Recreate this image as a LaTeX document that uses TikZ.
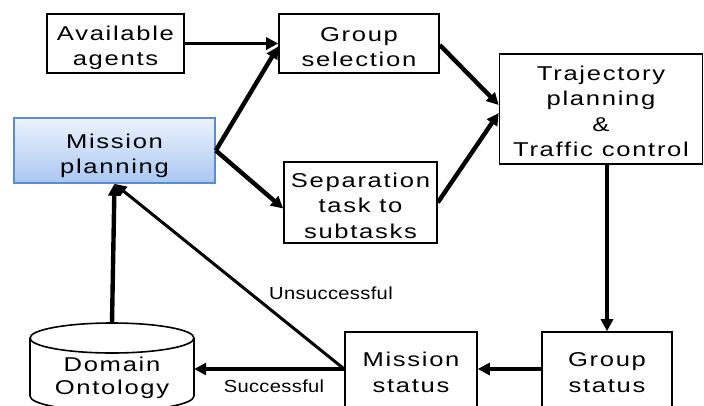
\documentclass[tikz,border=0pt]{standalone}
\usepackage{fontspec}
\setmainfont{Liberation Sans}
\newfontfamily\widefont[FakeStretch=1.28,LetterSpace=8.5]{Liberation Sans}
\newfontfamily\labfont[FakeStretch=1.15,LetterSpace=2]{Liberation Sans}
\usetikzlibrary{arrows.meta}
\definecolor{mpborder}{HTML}{5B8CCB}
\definecolor{mptop}{HTML}{EDF3FD}
\definecolor{mpbot}{HTML}{A9C7F1}
\newcommand{\tsh}[1]{\rule{0pt}{\dimexpr 15pt+2\dimexpr #1pt\relax\relax}}
\tikzset{
  box/.style={draw=black, line width=1.6pt, fill=white, align=center, inner sep=0pt,
    font=\widefont\fontsize{20}{25.5}\selectfont},
  arr/.style={line width=4.4pt, -{Triangle[length=12pt,width=12pt]}},
  arrthin/.style={line width=3pt, -{Triangle[length=12pt,width=11pt]}},
  lab/.style={font=\labfont\fontsize{17.5}{20}\selectfont, inner sep=0pt},
}
\begin{document}
\begin{tikzpicture}[x=1pt,y=1pt]
\useasboundingbox (0,0) rectangle (704,-405);
\begin{scope}
\clip (0,0) rectangle (704,-405);
% nodes
\node[box, minimum width=137pt, minimum height=59pt] (avail) at (115.5,-43.5) {\tsh{4}Available\\agents};
\node[box, minimum width=160pt, minimum height=59pt] (group) at (359,-43.5) {\tsh{3}Group\\selection};
\node[box, draw=mpborder, top color=mptop, bottom color=mpbot, minimum width=201pt, minimum height=65pt] (mission) at (114.5,-150.5) {\tsh{5}Mission\\planning};
\node[box, minimum width=153pt, minimum height=81pt] (sep) at (360.5,-202.5) {\tsh{3}Separation\\task to\\subtasks};
\node[box, minimum width=203pt, minimum height=110pt] (traj) at (601,-109) {\tsh{2}Trajectory\\planning\\\&\\Traffic control};
\node[box, minimum width=130pt, minimum height=78pt] (gstat) at (607,-371) {\tsh{1}Group\\status};
\node[box, minimum width=132pt, minimum height=78pt] (mstat) at (411,-371) {\tsh{1}Mission\\status};
% cylinder
\node[inner sep=0pt, minimum width=164pt, minimum height=90pt] (dom) at (112,-368) {};
\draw[line width=1.6pt, fill=white] (30,-338) -- (30,-396) arc[start angle=180, end angle=360, x radius=82, y radius=15] -- (194,-338);
\draw[line width=1.6pt, fill=white] (112,-338) ellipse[x radius=82, y radius=15];
\node[font=\widefont\fontsize{20}{22.5}\selectfont, align=center, inner sep=0pt] (domtext) at (112,-378) {Domain\\Ontology};
% connectors
\draw[arr, line width=3.4pt] (avail.east) -- (group.west);
\draw[arr] (mission.east) -- ([yshift=-3pt]group.west);
\draw[arr] (mission.east) -- ([yshift=-6pt]sep.west);
\draw[arr] ([yshift=-1.5pt]group.east) -- ([yshift=4pt]traj.west);
\draw[arr] (sep.east) -- ([yshift=-4pt]traj.west);
\draw[arr] (traj.south -| gstat.north) -- (gstat.north);
\draw[arr] ([yshift=2pt]gstat.west) -- ([yshift=2pt]mstat.east);
\draw[arr] ([yshift=2pt]mstat.west) -- ([yshift=2pt]mstat.west -| dom.east);
\draw[arrthin] ([yshift=2pt]mstat.west) -- (mission.south);
\draw[arr] (112,-323) -- (mission.south);
% labels
\node[lab] (unsucc) at (331,-293) {Unsuccessful};
\node[lab] (succ) at (274,-386) {Successful};
\end{scope}
\end{tikzpicture}
\end{document}
